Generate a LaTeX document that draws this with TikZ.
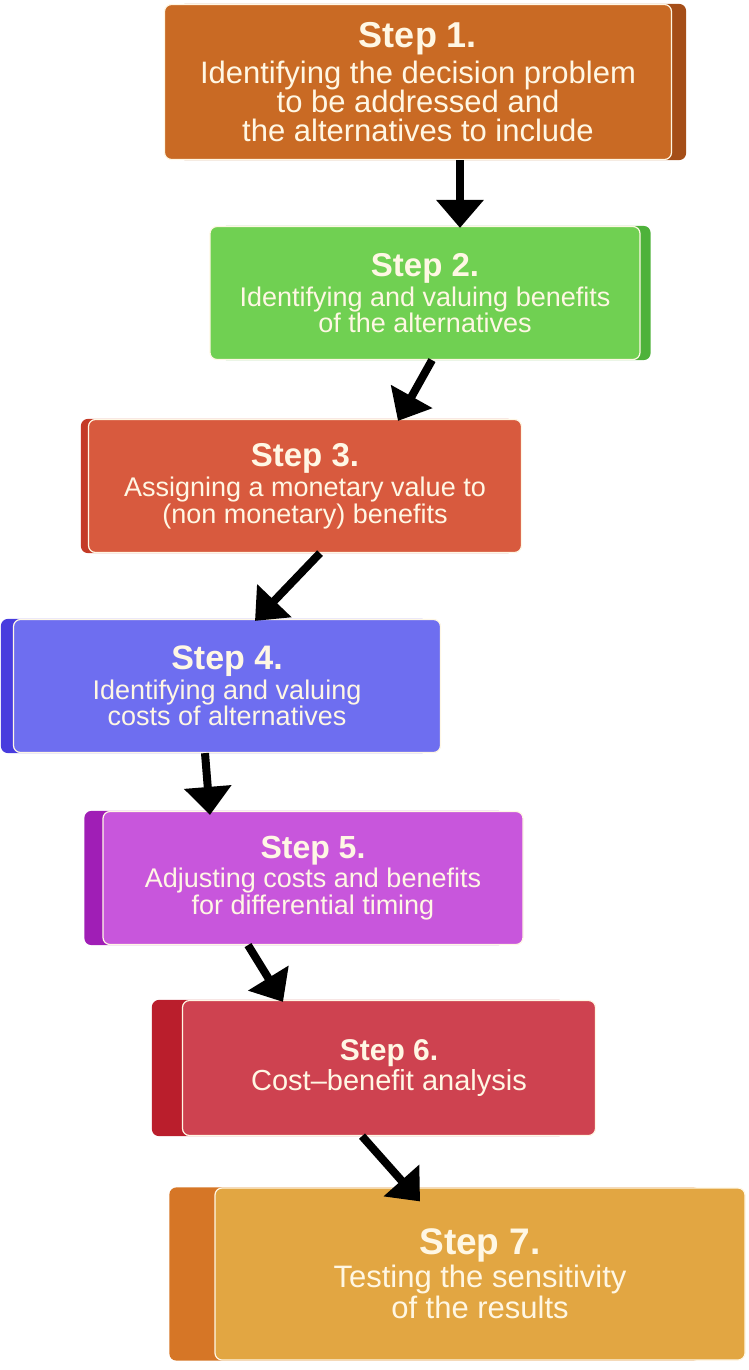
\documentclass[tikz,border=0pt]{standalone}
\usepackage{fontspec}
\setmainfont{Liberation Sans}
\usetikzlibrary{arrows.meta,backgrounds}
\definecolor{cream}{RGB}{255,247,228}
\definecolor{front1}{RGB}{201,106,36}\definecolor{back1}{RGB}{165,78,24}
\definecolor{front2}{RGB}{112,208,82}\definecolor{back2}{RGB}{78,178,58}
\definecolor{front3}{RGB}{216,90,62}\definecolor{back3}{RGB}{196,58,38}
\definecolor{front4}{RGB}{110,110,240}\definecolor{back4}{RGB}{72,60,222}
\definecolor{front5}{RGB}{200,86,220}\definecolor{back5}{RGB}{160,30,182}
\definecolor{front6}{RGB}{206,66,80}\definecolor{back6}{RGB}{186,30,44}
\definecolor{front7}{RGB}{226,166,66}\definecolor{back7}{RGB}{214,118,38}
\newcommand{\stephead}[2]{{\fontsize{#1}{#1}\selectfont\bfseries #2}}

\begin{document}
\begin{tikzpicture}[x=1pt,y=-1pt,
 stepbox/.style={draw=cream,line width=1.2pt,rounded corners=7pt,text=cream,align=center,inner sep=0pt},
 flow/.style={-{Triangle[width=46pt,length=28pt]},line width=8pt,black}]
\useasboundingbox (0,0) rectangle (748,1370);
% the seven steps
\node[stepbox,fill=front1,minimum width=507pt,minimum height=155pt,font=\fontsize{31}{29}\selectfont] (s1) at (418,82)
 {\stephead{36}{Step 1.}\\[5pt] Identifying the decision problem\\ to be addressed and\\ the alternatives to include};
\node[stepbox,fill=front2,minimum width=430pt,minimum height=133pt,font=\fontsize{27}{25}\selectfont] (s2) at (425,293)
 {\stephead{33}{Step 2.}\\[3pt] Identifying and valuing benefits\\ of the alternatives};
\node[stepbox,fill=front3,minimum width=433pt,minimum height=133pt,font=\fontsize{27}{25}\selectfont] (s3) at (305,486)
 {\stephead{33}{Step 3.}\\[3pt] Assigning a monetary value to\\ (non monetary) benefits};
\node[stepbox,fill=front4,minimum width=427pt,minimum height=133pt,font=\fontsize{27}{24}\selectfont] (s4) at (227,686)
 {\stephead{34}{Step 4.}\\[2pt] Identifying and valuing\\ costs of alternatives};
\node[stepbox,fill=front5,minimum width=420pt,minimum height=133pt,font=\fontsize{27}{24}\selectfont] (s5) at (313,878)
 {\stephead{32}{Step 5.}\\[2pt] Adjusting costs and benefits\\ for differential timing};
\node[stepbox,fill=front6,minimum width=413pt,minimum height=135pt,font=\fontsize{29}{28}\selectfont] (s6) at (389,1068)
 {\stephead{30}{Step 6.}\\[2pt] Cost--benefit analysis};
\node[stepbox,fill=front7,minimum width=530pt,minimum height=172pt,font=\fontsize{31}{31}\selectfont] (s7) at (480,1274)
 {\stephead{37}{Step 7.}\\[2pt] Testing the sensitivity\\ of the results};
% darker back panels
\begin{scope}[on background layer]
\foreach \n/\dx/\c in {s1/14/back1,s2/10/back2,s3/-7/back3,s4/-12/back4,s5/-18/back5,s6/-30/back6,s7/-45/back7}
 \fill[\c,rounded corners=7pt] ([xshift=\dx pt]\n.north west) rectangle ([xshift=\dx pt]\n.south east);
\end{scope}
% arrows
\draw[flow] ([xshift=42pt]s1.south) -- ([xshift=35pt,yshift=-2pt]s2.north);
\draw[flow] ([xshift=7pt]s2.south) -- ([xshift=93pt,yshift=-2pt]s3.north);
\draw[flow] ([xshift=15pt]s3.south) -- ([xshift=28pt,yshift=-2pt]s4.north);
\draw[flow] ([xshift=-22pt]s4.south) -- ([xshift=-103pt,yshift=-4pt]s5.north);
\draw[flow] ([xshift=-65pt]s5.south) -- ([xshift=-106pt,yshift=-2pt]s6.north);
\draw[flow] ([xshift=-27pt]s6.south) -- ([xshift=-60pt,yshift=-14pt]s7.north);
\end{tikzpicture}
\end{document}
